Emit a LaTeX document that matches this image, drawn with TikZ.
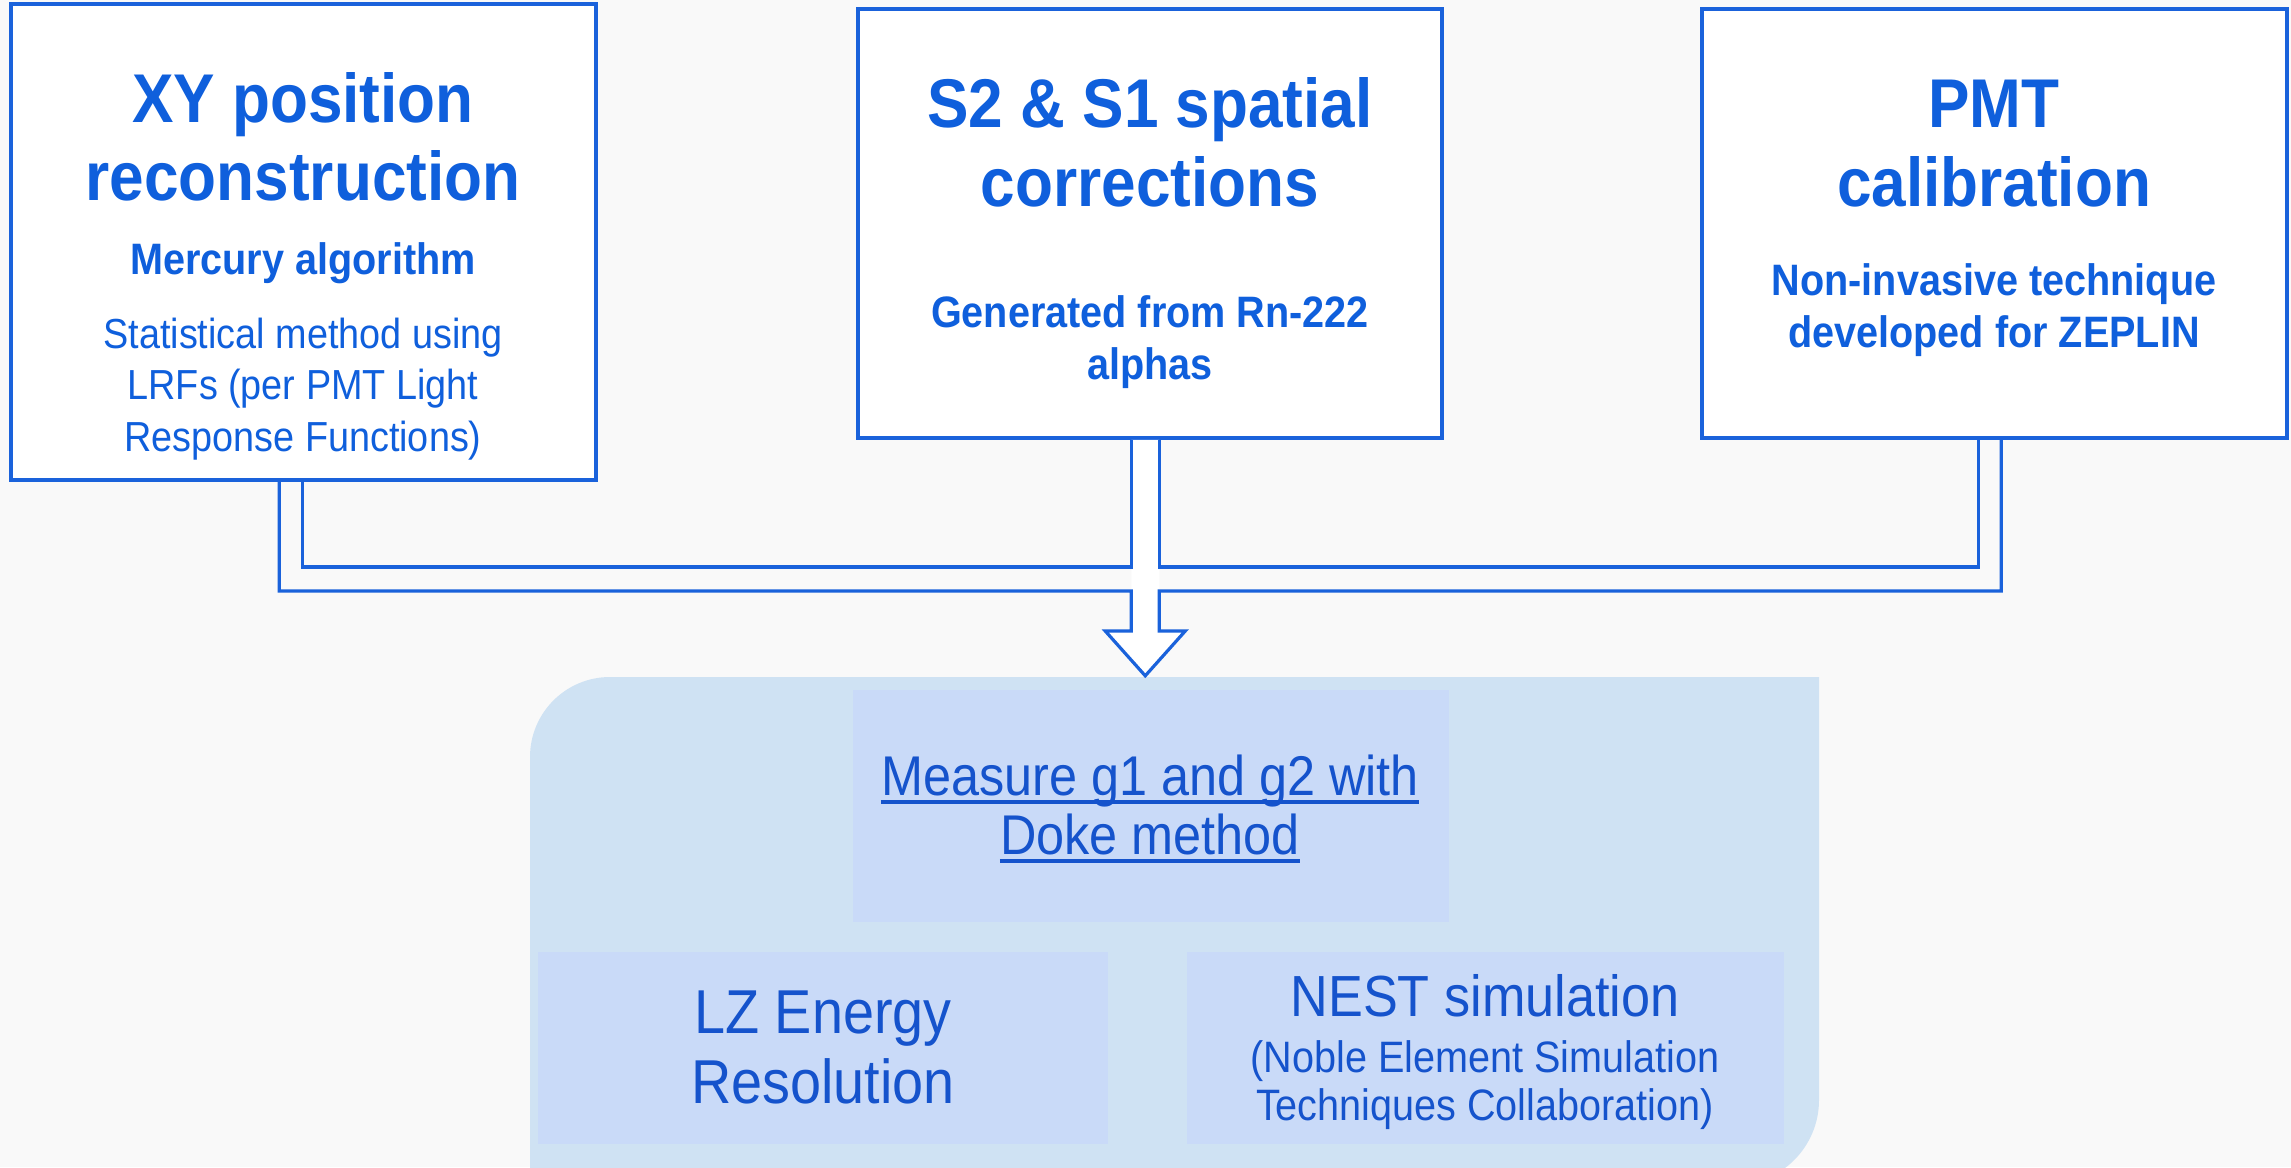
\documentclass[tikz,border=0pt]{standalone}
\usepackage{fontspec}
\setmainfont[FakeStretch=0.9]{Liberation Sans}
\usetikzlibrary{calc}
\definecolor{bgc}{HTML}{F9F9F9}
\definecolor{lineblue}{HTML}{1A62DB}
\definecolor{tblue}{HTML}{0F5FDC}
\definecolor{dblue}{HTML}{1553CC}
\definecolor{panelc}{HTML}{CFE2F3}
\definecolor{innerc}{HTML}{C9DAF8}
\tikzset{
  topbox/.style={draw=lineblue, line width=3.5pt, fill=white, inner sep=0},
  innerbox/.style={fill=innerc, inner sep=0},
  pipe/.style={draw=lineblue, line width=3.2pt, line join=miter},
  txt/.style={anchor=base, inner sep=0, text=tblue},
  title/.style={txt, font=\bfseries\fontsize{69}{80}\selectfont},
  subt/.style={txt, font=\bfseries\fontsize{44}{51}\selectfont},
  desc/.style={txt, font=\fontsize{42}{51}\selectfont},
  btxt/.style={anchor=base, inner sep=0, text=dblue},
  uline/.style={dblue, line width=4.5pt},
}
\begin{document}
\begin{tikzpicture}[x=1pt,y=-1pt]
\useasboundingbox (0,0) rectangle (2291,1167);
\fill[bgc] (0,0) rectangle (2291,1167);
% bottom panel
\begin{scope}
\clip (0,0) rectangle (2291,1167);
\fill[panelc] (530,1200) -- (530,757) arc[start angle=180, end angle=270, radius=80]
  -- (1819,677) -- (1819,1100) arc[start angle=0, end angle=90, radius=85] -- cycle;
\end{scope}
\node[innerbox, minimum width=596, minimum height=232] (mbox) at (1151,806) {};
\node[innerbox, minimum width=570, minimum height=192] (lbox) at (823,1047.5) {};
\node[innerbox, minimum width=597, minimum height=192] (nbox) at (1485.5,1047.5) {};
% top boxes
\node[topbox, minimum width=585, minimum height=476] (b1) at (303.5,242) {};
\node[topbox, minimum width=584, minimum height=429] (b2) at (1150,223.5) {};
\node[topbox, minimum width=585, minimum height=429] (b3) at (1994.5,223.5) {};
% pipe coordinates
\path (b1.south west) ++(270,0) coordinate (o1) ++(23,0) coordinate (i1);
\path (b2.south west) ++(275,0) coordinate (s1) ++(28,0) coordinate (s2);
\path (b3.south west) ++(278,0) coordinate (i3) ++(23,0) coordinate (o3);
\coordinate (yi) at (0,567);
\coordinate (yo) at (0,591);
\coordinate (yh) at (0,631);
\coordinate (sm) at ($(s1)!0.5!(s2)$);
\coordinate (tip) at ($(sm |- mbox.north)+(0,-14)$);
% stem fill
\fill[white] (s1) -- (s1 |- yh) -- ++(-26,0) -- (tip) -- ($(s2 |- yh)+(26,0)$) -- (s2 |- yh) -- (s2) -- cycle;
% inner lines
\draw[pipe] (i1) -- (i1 |- yi) -- (s1 |- yi) -- (s1);
\draw[pipe] (s2) -- (s2 |- yi) -- (i3 |- yi) -- (i3);
% outer line with arrow head
\draw[pipe] (o1) -- (o1 |- yo) -- (s1 |- yo) -- (s1 |- yh) -- ++(-26,0) -- (tip)
  -- ($(s2 |- yh)+(26,0)$) -- (s2 |- yh) -- (s2 |- yo) -- (o3 |- yo) -- (o3);
% box 1 text
\node[title] (t1a) at (303,122) {XY position};
\node[title] (t1b) at (303,200) {reconstruction};
\node[subt] (t1c) at (303,274) {Mercury algorithm};
\node[desc] (t1d) at (303,348) {Statistical method using};
\node[desc] (t1e) at (303,399) {LRFs (per PMT Light};
\node[desc] (t1f) at (303,451) {Response Functions)};
% box 2 text
\node[title] (t2a) at (1150,127) {S2 \& S1 spatial};
\node[title] (t2b) at (1150,206) {corrections};
\node[subt] (t2c) at (1150,327) {Generated from Rn-222};
\node[subt] (t2d) at (1150,379) {alphas};
% box 3 text
\node[title] (t3a) at (1994,127) {PMT};
\node[title] (t3b) at (1994,206) {calibration};
\node[subt] (t3c) at (1994,295) {Non-invasive technique};
\node[subt] (t3d) at (1994,347) {developed for ZEPLIN};
% bottom texts
\node[btxt, font=\fontsize{56}{60}\selectfont] (m1) at (1150,795) {Measure g1 and g2 with};
\node[btxt, font=\fontsize{56}{60}\selectfont] (m2) at (1150,854) {Doke method};
\draw[uline] ($(m1.base west)+(0,7)$) -- ($(m1.base east)+(0,7)$);
\draw[uline] ($(m2.base west)+(0,7)$) -- ($(m2.base east)+(0,7)$);
\node[btxt, font=\fontsize{62}{69}\selectfont] (l1) at (823,1033) {LZ Energy};
\node[btxt, font=\fontsize{62}{69}\selectfont] (l2) at (823,1103) {Resolution};
\node[btxt, font=\fontsize{58}{64}\selectfont] (n1) at (1485,1016) {NEST simulation};
\node[btxt, font=\fontsize{44}{48}\selectfont] (n2) at (1485,1072) {(Noble Element Simulation};
\node[btxt, font=\fontsize{44}{48}\selectfont] (n3) at (1485,1120) {Techniques Collaboration)};
\end{tikzpicture}
\end{document}
